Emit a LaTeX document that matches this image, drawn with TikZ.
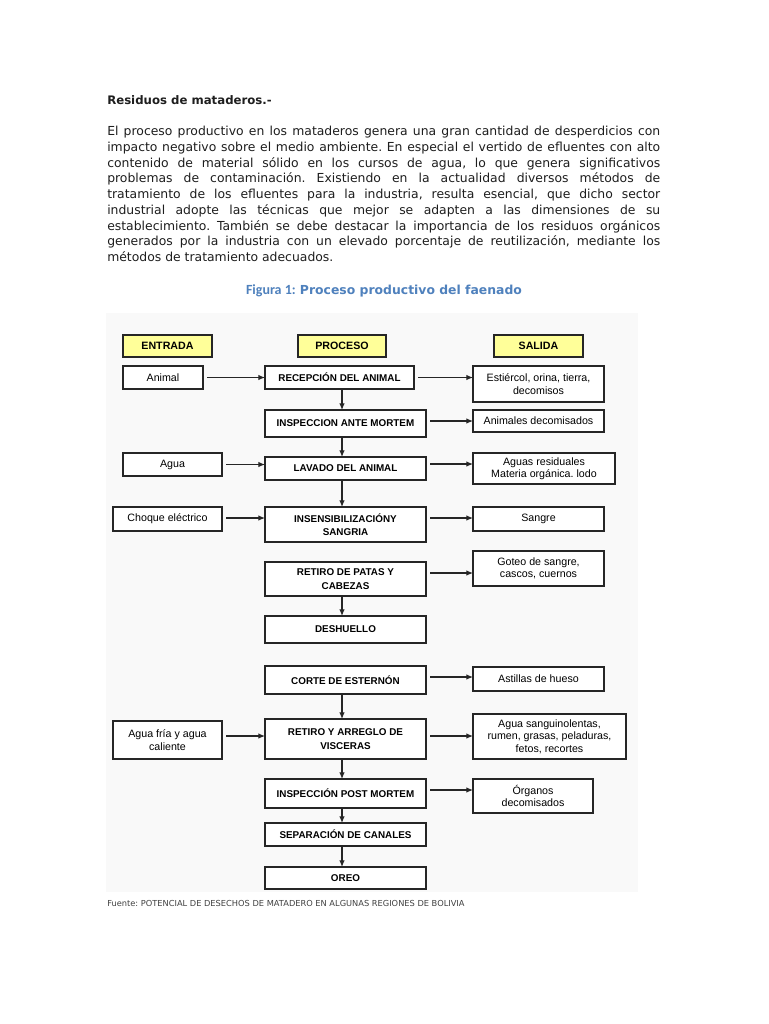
\documentclass[tikz,border=0pt]{standalone}
\usepackage{fontspec}
\setmainfont{DejaVu Sans}
\newfontfamily\arialf{Liberation Sans}
\newfontfamily\carlitof{Carlito}
\usetikzlibrary{arrows.meta}
\definecolor{hdrfill}{RGB}{255,255,153}
\definecolor{capblue}{RGB}{79,129,189}
\definecolor{txtgray}{RGB}{30,30,30}
\definecolor{figbg}{RGB}{249,249,249}
\newcommand\mybox[7]{\node[#6, minimum width={(#4-#2)*0.75pt}, minimum height={(#5-#3)*0.75pt}] (#1) at ({(#2+#4)/2},{(#3+#5)/2}) {#7};}
\newcommand\harr[3]{\path ([shift={(4,#3)}]#1.east) coordinate (hs); \draw[arr] (hs) -- (hs -| #2.west);}
\frenchspacing
\begin{document}
\begin{tikzpicture}[x=0.75pt,y=-0.75pt,
  base/.style={draw=black!85, line width=0.95pt, inner sep=0pt, outer sep=0pt, align=center, fill=white},
  hdr/.style={base, line width=1.6pt, fill=hdrfill, font=\arialf\bfseries\fontsize{8}{9.6}\selectfont},
  proc/.style={base, font=\arialf\bfseries\fontsize{7.4}{10}\selectfont},
  io/.style={base, font=\arialf\fontsize{8}{9.3}\selectfont},
  arr/.style={-{Latex[length=5pt,width=4.2pt]}, line width=0.85pt, draw=black!85}]
\fill[white] (0,0) rectangle (768,1024);
\useasboundingbox (0,0) rectangle (768,1024);
% page text
\node[anchor=base west, inner sep=0pt, text=txtgray, font=\bfseries\fontsize{8.8}{11}\selectfont] (title) at (107,104) {Residuos de mataderos.-};
\node[anchor=north west, inner sep=0pt, text width=414.75pt, align=justify, text=txtgray, font=\fontsize{9.3}{11.8}\selectfont] (para) at (107,126)
{El proceso productivo en los mataderos genera una gran cantidad de desperdicios con\linebreak
impacto negativo sobre el medio ambiente. En especial el vertido de efluentes con alto\linebreak
contenido de material sólido en los cursos de agua, lo que genera significativos\linebreak
problemas de contaminación. Existiendo en la actualidad diversos métodos de\linebreak
tratamiento de los efluentes para la industria, resulta esencial, que dicho sector\linebreak
industrial adopte las técnicas que mejor se adapten a las dimensiones de su\linebreak
establecimiento. También se debe destacar la importancia de los residuos orgánicos\linebreak
generados por la industria con un elevado porcentaje de reutilización, mediante los\linebreak
métodos de tratamiento adecuados.};
\node[anchor=base, inner sep=0pt, text=capblue] (cap) at (384,294)
{{\carlitof\bfseries\fontsize{10.5}{12}\selectfont Figura 1:} {\bfseries\fontsize{9.3}{12}\selectfont Proceso productivo del faenado}};
% figure background
\fill[figbg] (106,313) rectangle (638,892);
% headers
\mybox{hentrada}{123}{335}{212}{357}{hdr}{ENTRADA}
\mybox{hproceso}{298}{335}{386}{357}{hdr}{PROCESO}
\mybox{hsalida}{494}{335}{583}{357}{hdr}{SALIDA}
% inputs
\mybox{animal}{123}{366}{203}{389}{io}{Animal}
\mybox{agua}{123}{453}{222}{476}{io}{Agua}
\mybox{choque}{113}{507}{222}{531}{io}{Choque eléctrico}
\mybox{aguafria}{113}{721}{222}{759}{io}{Agua fría y agua\\caliente}
% process
\mybox{recep}{265}{366}{414}{389}{proc}{RECEPCIÓN DEL ANIMAL}
\mybox{inspec}{265}{410}{426}{437}{proc}{INSPECCION ANTE MORTEM}
\mybox{lavado}{265}{457}{426}{480}{proc}{LAVADO DEL ANIMAL}
\mybox{insens}{265}{507}{426}{542}{proc}{INSENSIBILIZACIÓNY\\SANGRIA}
\mybox{patas}{265}{562}{426}{596}{proc}{RETIRO DE PATAS Y\\CABEZAS}
\mybox{deshuello}{265}{616}{426}{643}{proc}{DESHUELLO}
\mybox{corte}{265}{666}{426}{694}{proc}{CORTE DE ESTERNÓN}
\mybox{visceras}{265}{719}{426}{759}{proc}{RETIRO Y ARREGLO DE\\VISCERAS}
\mybox{postm}{265}{779}{426}{808}{proc}{INSPECCIÓN POST MORTEM}
\mybox{separ}{265}{823}{426}{846}{proc}{SEPARACIÓN DE CANALES}
\mybox{oreo}{265}{867}{426}{889}{proc}{OREO}
% outputs
\mybox{estiercol}{473}{366}{604}{402}{io}{Estiércol, orina, tierra,\\decomisos}
\mybox{animales}{473}{410}{604}{432}{io}{Animales decomisados}
\mybox{aguasres}{473}{453}{615}{484}{io}{Aguas residuales\\Materia orgánica. lodo}
\mybox{sangre}{473}{507}{604}{531}{io}{Sangre}
\mybox{goteo}{473}{551}{604}{586}{io}{Goteo de sangre,\\cascos, cuernos}
\mybox{astillas}{473}{667}{604}{691}{io}{Astillas de hueso}
\mybox{sanguin}{473}{714}{626}{759}{io}{Agua sanguinolentas,\\rumen, grasas, peladuras,\\fetos, recortes}
\mybox{organos}{473}{779}{593}{813}{io}{Órganos\\decomisados}
% input arrows
\harr{animal}{recep}{0}
\harr{agua}{lavado}{0}
\harr{choque}{insens}{-1}
\harr{aguafria}{visceras}{-4}
% output arrows
\harr{recep}{estiercol}{0}
\harr{inspec}{animales}{-2.5}
\harr{lavado}{aguasres}{-4.5}
\harr{insens}{sangre}{-6.5}
\harr{patas}{goteo}{-6}
\harr{corte}{astillas}{-3}
\harr{visceras}{sanguin}{-3}
\harr{postm}{organos}{-3.5}
% vertical arrows
\coordinate (vx) at (342,0);
\draw[arr] (recep.south -| vx) -- (inspec.north -| vx);
\draw[arr] (inspec.south -| vx) -- (lavado.north -| vx);
\draw[arr] (lavado.south -| vx) -- (insens.north -| vx);
\draw[arr] (patas.south -| vx) -- (deshuello.north -| vx);
\draw[arr] (corte.south -| vx) -- (visceras.north -| vx);
\draw[arr] (visceras.south -| vx) -- (postm.north -| vx);
\draw[arr] (postm.south -| vx) -- (separ.north -| vx);
\draw[arr] (separ.south -| vx) -- (oreo.north -| vx);
% source
\node[anchor=base west, inner sep=0pt, text=txtgray!85, font=\fontsize{6.2}{7}\selectfont] (src) at (107,906) {Fuente: POTENCIAL DE DESECHOS DE MATADERO EN ALGUNAS REGIONES DE BOLIVIA};
\end{tikzpicture}
\end{document}
